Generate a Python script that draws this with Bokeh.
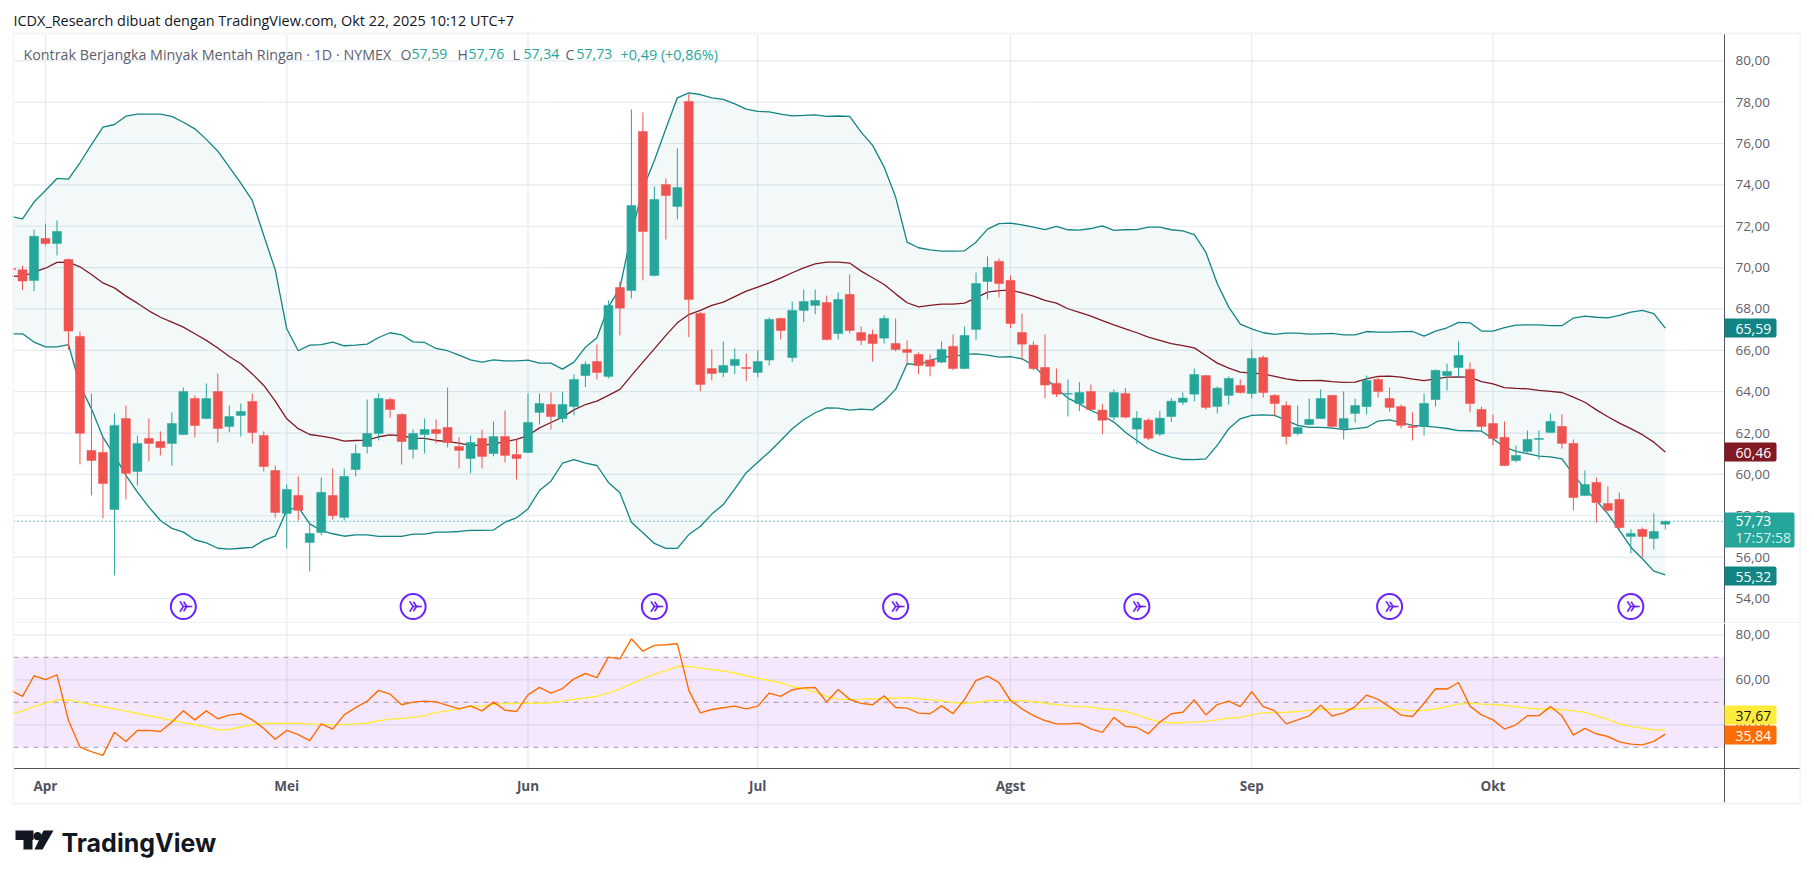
from bokeh.plotting import figure
from bokeh.layouts import column
from bokeh.models import (Range1d, LinearAxis, FixedTicker, BoxAnnotation, Label,
                          PolyAnnotation, ColumnDataSource)
from bokeh.embed import file_html
from bokeh.resources import INLINE

first_bar = -3
opens = [69.96,69.89,69.38,71.41,71.17,70.39,66.67,61.16,61.06,58.30,62.70,60.14,61.74,61.59,61.50,61.93,63.67,62.70,64.01,62.32,62.85,63.53,61.88,60.19,
58.11,58.98,56.71,57.19,58.98,57.92,60.24,61.35,61.98,63.62,62.90,61.21,61.93,62.17,62.27,61.35,60.77,61.74,61.01,61.83,60.96,
61.06,63.00,63.38,62.70,63.28,64.78,65.46,64.74,69.04,68.89,76.58,69.62,74.02,72.96,78.03,67.78,65.12,64.93,65.27,65.17,64.93,65.53,67.54,65.65,67.93,68.17,68.31,66.81,68.70,66.86,66.77,66.59,66.33,66.04,65.80,65.53,65.43,66.19,65.12,67.01,69.33,70.30,69.38,66.86,66.25,65.17,64.40,63.88,63.43,64.01,63.11,62.77,63.91,62.19,62.62,61.95,62.80,63.49,63.88,64.78,63.29,
63.82,64.30,63.91,65.65,63.82,63.33,61.98,62.41,62.70,63.82,62.22,62.95,63.28,64.59,63.67,63.28,62.32,62.32,63.62,64.78,65.17,65.08,63.14,62.46,61.79,60.67,61.11,61.69,62.03,62.32,61.50,58.98,59.61,58.59,58.79,57.00,57.34,56.90,57.59]
highs = [70.10,70.09,71.84,72.13,72.28,70.44,66.91,63.91,61.80,62.95,63.33,61.88,62.70,62.08,63.00,64.20,63.82,64.40,64.88,63.33,63.43,63.91,62.08,60.43,
59.51,59.90,57.58,59.85,60.29,60.29,61.45,63.62,63.91,63.72,62.95,62.17,62.70,62.66,64.20,61.79,61.88,62.17,62.56,63.09,61.69,
63.91,63.91,63.96,64.01,64.83,65.46,66.28,68.41,69.33,77.65,77.50,73.92,74.31,75.76,78.40,67.85,66.04,66.43,66.09,65.85,65.99,67.59,67.59,68.36,68.94,68.94,68.65,68.80,69.67,67.15,67.01,67.69,67.54,66.48,65.90,65.80,66.43,66.77,67.15,69.76,70.54,70.44,69.62,67.78,66.43,66.77,65.12,64.59,64.46,64.35,63.40,64.11,64.17,63.06,62.72,63.06,63.69,63.96,65.12,64.80,64.25,
64.74,64.59,66.04,65.75,63.88,63.53,63.33,63.67,64.11,63.84,64.01,63.67,64.78,64.74,64.20,63.38,63.00,63.91,65.08,65.36,66.43,65.41,63.28,62.90,62.56,61.40,62.12,62.12,62.95,62.90,61.69,60.19,59.85,59.42,59.13,57.34,57.43,58.11,57.76]
lows = [69.50,68.91,68.86,71.07,70.59,66.03,60.48,58.98,57.87,55.11,58.79,59.47,60.63,60.92,60.43,61.90,61.79,62.68,61.54,62.03,61.83,61.50,60.14,57.92,
56.42,57.77,55.31,57.05,57.82,57.77,59.90,61.01,61.64,62.75,60.48,60.77,61.01,61.50,61.30,60.29,60.05,60.29,60.87,60.58,59.75,
61.04,62.41,62.17,62.51,62.85,64.22,64.59,64.64,66.72,68.51,69.38,69.57,71.36,72.33,66.64,64.01,64.54,64.70,64.85,64.51,64.70,65.27,66.52,65.43,67.36,67.75,66.48,66.52,66.81,66.25,65.46,66.33,65.95,65.27,64.85,64.74,65.38,65.04,65.08,66.52,68.46,68.56,67.07,65.53,65.04,63.69,63.74,62.80,63.06,63.11,61.95,62.62,62.72,61.46,61.66,61.85,62.53,63.35,63.54,63.14,62.95,
63.38,63.91,63.67,63.72,62.80,61.45,61.88,62.37,62.68,62.27,61.69,62.51,62.90,63.72,63.04,62.22,61.64,61.88,63.28,64.06,64.69,63.00,62.08,61.40,60.41,60.58,61.06,60.72,62.01,61.25,58.26,58.96,57.68,58.21,57.29,56.18,55.98,56.37,57.34]
closes = [69.90,69.35,71.51,71.17,71.75,66.93,61.99,60.67,59.56,62.37,60.05,61.50,61.50,61.30,62.46,64.01,62.37,63.67,62.22,62.80,63.04,62.03,60.38,58.16,
59.27,58.26,57.14,59.13,58.01,59.90,61.01,61.98,63.67,63.14,61.59,61.98,62.17,61.98,61.54,61.16,61.54,60.87,61.83,60.92,60.77,
62.51,63.43,62.80,63.38,64.59,65.32,64.93,68.17,68.04,73.00,71.75,73.29,73.49,73.87,68.46,64.35,64.88,65.27,65.56,65.12,65.46,67.49,66.96,67.93,68.36,68.41,66.52,68.46,66.96,66.48,66.33,67.54,66.04,65.90,65.27,65.23,66.04,65.12,66.72,69.23,70.01,69.23,67.30,66.30,65.12,64.32,63.88,63.91,63.96,63.14,62.62,63.96,62.77,62.72,61.75,62.72,63.54,63.69,64.83,63.24,64.17,
64.64,63.96,65.61,63.96,63.43,61.83,62.27,62.66,63.67,62.32,62.70,63.33,64.54,64.01,63.24,62.37,62.27,63.43,65.03,64.98,65.75,63.43,62.32,61.74,60.43,60.92,61.69,61.74,62.56,61.50,58.88,59.51,58.64,58.26,57.43,57.14,57.00,57.24,57.73]

bb_upper = [72.47,72.36,73.17,73.73,74.31,74.28,75.07,75.95,76.79,76.92,77.32,77.42,77.42,77.42,77.31,77.03,76.71,76.20,75.63,74.86,74.08,73.25,71.55,69.89,67.04,65.98,66.25,66.28,66.40,66.22,66.25,66.30,66.62,66.85,66.75,66.41,66.38,66.09,65.98,65.77,65.54,65.43,65.54,65.49,65.49,65.53,65.38,65.38,65.09,65.43,66.15,66.61,68.09,69.02,
71.63,73.81,75.18,76.71,78.21,78.45,78.37,78.21,78.13,77.92,77.66,77.55,77.53,77.42,77.34,77.36,77.39,77.31,77.33,77.31,76.55,75.91,74.86,73.41,71.23,70.96,70.86,70.80,70.80,70.81,71.23,71.86,72.13,72.15,72.07,71.96,71.84,71.99,71.83,71.81,71.89,72.02,71.80,71.83,71.84,71.96,71.96,71.83,71.78,71.59,
70.75,69.22,68.09,67.27,67.04,66.85,66.77,66.83,66.83,66.78,66.80,66.82,66.75,66.75,66.91,66.88,66.88,66.90,66.91,66.69,66.93,67.09,67.35,67.33,66.93,66.93,67.10,67.22,67.23,67.23,67.19,67.19,67.56,67.65,67.60,67.57,67.69,67.85,67.93,67.77,67.07]
bb_middle = [69.59,69.57,69.78,69.97,70.25,70.26,70.04,69.67,69.26,69.02,68.62,68.28,67.91,67.60,67.36,67.12,66.80,66.48,66.11,65.70,65.35,64.86,64.30,63.54,62.69,62.21,61.93,61.85,61.75,61.61,61.64,61.66,61.82,61.91,61.87,61.75,61.74,61.64,61.59,61.51,61.40,61.40,61.48,61.58,61.69,61.88,62.25,62.51,62.77,63.12,63.38,63.54,63.82,64.11,
64.78,65.43,66.07,66.72,67.33,67.73,67.93,68.17,68.33,68.60,68.86,69.06,69.26,69.49,69.75,69.99,70.18,70.26,70.26,70.22,69.83,69.51,69.18,68.73,68.30,68.10,68.17,68.23,68.23,68.28,68.54,68.81,68.89,68.91,68.78,68.62,68.41,68.28,68.01,67.83,67.65,67.44,67.23,67.04,66.85,66.64,66.48,66.32,66.23,66.12,
65.75,65.38,65.14,64.95,64.90,64.86,64.74,64.62,64.54,64.53,64.54,64.49,64.45,64.46,64.62,64.74,64.75,64.70,64.61,64.53,64.62,64.70,64.72,64.69,64.49,64.38,64.20,64.16,64.14,64.06,64.01,63.96,63.74,63.49,63.12,62.79,62.48,62.21,61.92,61.56,61.08]
bb_lower = [66.80,66.80,66.40,66.17,66.17,66.28,64.30,63.17,61.80,60.92,59.95,59.14,58.42,57.77,57.39,57.21,56.84,56.69,56.43,56.39,56.43,56.47,56.81,57.01,58.26,58.42,57.61,57.29,57.13,57.01,57.08,57.08,57.00,57.00,57.00,57.11,57.11,57.21,57.21,57.24,57.29,57.29,57.31,57.69,57.90,58.33,59.22,59.67,60.54,60.71,60.54,60.43,59.61,59.11,
57.69,57.18,56.66,56.42,56.42,57.09,57.48,58.08,58.54,59.30,60.08,60.59,61.08,61.64,62.21,62.64,62.98,63.22,63.20,63.11,63.16,63.12,63.54,64.11,65.35,65.30,65.51,65.67,65.70,65.80,65.83,65.77,65.67,65.69,65.59,65.27,64.70,64.14,63.69,63.41,63.09,62.85,62.53,62.04,61.64,61.24,61.00,60.84,60.72,60.71,
60.75,61.40,62.21,62.69,62.85,62.88,62.85,62.61,62.37,62.27,62.27,62.24,62.16,62.21,62.27,62.58,62.64,62.50,62.37,62.33,62.29,62.22,62.12,62.11,62.09,61.72,61.32,61.11,61.00,60.88,60.85,60.75,60.00,59.30,58.74,58.09,57.29,56.48,55.92,55.32,55.14]

rsi = [55.3,52.6,61.8,60.1,62.2,41.9,30.1,28.1,26.4,36.7,32.6,37.5,37.5,37.0,41.2,46.2,42.2,46.2,42.7,44.3,45.0,42.2,38.4,33.6,37.5,35.6,33.0,40.4,38.1,44.4,47.6,50.5,55.3,53.6,48.9,50.1,50.5,50.2,48.6,47.1,48.4,46.2,50.1,46.5,45.9,53.3,56.6,54.1,56.1,60.4,62.8,61.0,70.1,69.3,
78.2,72.7,75.3,75.6,76.0,55.3,45.3,46.8,47.6,48.3,47.1,48.3,54.1,52.6,55.6,56.4,56.6,50.1,55.7,51.3,49.5,48.9,52.9,47.7,47.4,45.2,44.9,48.4,45.0,51.3,59.7,61.6,58.7,50.8,47.1,44.1,41.9,40.4,40.4,40.7,38.2,36.6,43.3,39.3,38.8,36.0,41.2,44.9,45.6,51.1,
44.4,49.0,50.5,48.1,54.7,48.1,46.2,40.4,42.2,44.0,48.7,43.9,45.3,48.1,53.2,51.3,48.0,44.3,43.7,49.6,56.0,55.9,58.8,48.3,44.4,42.2,38.1,40.0,44.0,44.1,48.1,44.0,35.4,38.4,36.0,34.8,32.4,31.4,31.1,32.6,35.84]
rsi_ma = [44.9,46.1,48.1,49.6,51.0,51.1,50.1,49.0,48.0,47.1,46.1,45.0,44.0,43.0,41.9,41.0,40.0,39.0,37.8,37.9,39.0,40.0,40.6,40.6,40.7,40.7,40.3,40.3,40.1,40.1,40.4,40.7,41.8,42.5,42.8,43.3,44.1,45.5,46.2,47.1,48.1,48.4,49.0,49.5,49.5,49.6,49.6,49.8,50.5,51.3,52.0,52.6,54.2,56.0,
58.2,60.4,62.4,64.1,65.9,65.9,65.2,64.6,63.9,63.0,61.8,60.7,59.7,58.7,57.0,56.0,54.5,52.7,51.4,51.3,51.4,51.6,51.7,51.9,51.9,51.7,51.1,50.7,49.9,49.6,49.9,50.7,50.8,50.8,50.7,50.4,49.6,49.0,48.4,48.1,47.9,47.0,46.8,45.9,44.4,42.7,41.3,40.9,40.9,41.2,
41.5,42.2,43.0,43.3,44.4,45.3,45.5,45.6,45.9,46.4,46.8,47.0,47.0,46.8,47.4,47.4,47.4,46.8,46.2,46.4,47.0,48.1,49.2,49.6,49.2,49.0,48.6,48.0,47.4,47.0,47.0,46.7,46.2,45.5,44.1,42.4,40.4,39.3,38.5,37.8,37.67]

month_bars = [0, 21, 42, 62, 84, 105, 126]
month_labels = ["Apr", "Mei", "Jun", "Jul", "Agst", "Sep", "Okt"]
price_ticks = [54, 56, 58, 60, 62, 64, 66, 68, 70, 72, 74, 76, 78, 80]
price_labels = ["54,00", "56,00", "58,00", "60,00", "62,00", "64,00", "66,00", "68,00", "70,00", "72,00", "74,00", "76,00", "78,00", "80,00"]
rsi_ticks = [40, 60, 80]
rsi_labels = ["40,00", "60,00", "80,00"]
rsi_dashes = [30, 50, 70]
icon_bars = [12, 32, 53, 74, 95, 117, 138]
icon_level = 53.61
last_close = 57.73

UP, DOWN = "#26a69a", "#ef5350"
BAND, MID = "#138484", "#801922"
GRID = "#e3ebf1"
AXIS = "#50535e"
TXT = "#5d606b"
CHROME = "#f2f3f3"
FONT = "Open Sans"
W, H1, H2 = 1801, 623, 235
PX = 11.488                # width of one bar on the page
X_LEFT = (13 - 45) / PX    # left end of the plot area, in bars
X_AXIS = (1724 - 45) / PX  # the price axis, in bars
X_END = (1801 - 45) / PX
P_SCALE = 20.68            # page pixels per price unit
P_TOP, P_BOTTOM = 80 + 60.3 / P_SCALE, 80 - (623 - 60.3) / P_SCALE
P_PANE_TOP = 80 + (60.3 - 33) / P_SCALE
R_SCALE = 2.25             # page pixels per RSI unit
R_TOP, R_AXIS, R_BOTTOM = 80 + (634.3 - 623) / R_SCALE, 80 - (768 - 634.3) / R_SCALE, 80 - (858 - 634.3) / R_SCALE
R_FRAME = 80 - (802 - 634.3) / R_SCALE

bars = list(range(first_bar, first_bar + len(closes)))
for arr in (opens, highs, lows, bb_upper, bb_middle, bb_lower, rsi, rsi_ma):
    assert len(arr) == len(bars), len(arr)

x_range = Range1d((12 - 45) / PX, X_END)

def base(height, y0, y1):
    p = figure(width=W, height=height, x_range=x_range, y_range=Range1d(y0, y1),
               x_axis_type=None, y_axis_type=None, toolbar_location=None, output_backend="svg",
               min_border_left=12, min_border_right=0, min_border_top=0, min_border_bottom=0)
    p.outline_line_color = None
    p.background_fill_color = "white"
    p.border_fill_color = "white"
    return p

def right_axis(p, ticks, labels, bounds):
    ax = LinearAxis(ticker=FixedTicker(ticks=ticks), major_label_overrides=dict(zip(ticks, labels)),
                    fixed_location=X_AXIS, bounds=bounds)
    ax.axis_line_color = AXIS
    ax.major_tick_line_color = None
    ax.minor_tick_line_color = None
    ax.major_tick_out = 0
    ax.major_tick_in = 0
    ax.major_label_standoff = 11
    ax.major_label_text_font = FONT
    ax.major_label_text_font_size = "13.5px"
    ax.major_label_text_color = TXT
    p.add_layout(ax, "right")

def grids(p, yticks, y0, y1):
    p.segment(x0=[X_LEFT] * len(yticks), y0=yticks, x1=[X_AXIS] * len(yticks), y1=yticks,
              line_color=GRID, line_width=1.2, level="underlay")
    p.segment(x0=month_bars, y0=[y0] * len(month_bars), x1=month_bars, y1=[y1] * len(month_bars),
              line_color=GRID, line_width=1.2, level="underlay")

def box(p, off, l, t, r, b, color, **kw):
    p.add_layout(BoxAnnotation(left=l, right=r, top=t - off, bottom=b - off,
                               left_units="canvas", right_units="canvas", top_units="canvas", bottom_units="canvas",
                               fill_color=color, fill_alpha=1, line_color=None, level="overlay", **kw))

def txt(p, off, x, y, s, color=TXT, size="14px", align="left", style="normal", font=FONT):
    p.add_layout(Label(x=x, y=y - off, x_units="canvas", y_units="canvas", text=s, text_color=color,
                       text_font=font, text_font_size=size, text_align=align, text_baseline="middle",
                       text_font_style=style, level="overlay"))

def tag(p, off, t, b, s, color, tcolor="white", r=1776):
    box(p, off, 1724, t, r, b, color, border_radius=(0, 2, 2, 0))
    txt(p, off, 1735, (t + b) / 2 + 0.5, s, tcolor, size="14px")

# ---------- price pane
p1 = base(H1, P_BOTTOM, P_TOP)
grids(p1, price_ticks, P_BOTTOM, P_PANE_TOP)
right_axis(p1, price_ticks, price_labels, (P_BOTTOM, P_PANE_TOP))

src = ColumnDataSource(dict(
    x=bars, o=opens, h=highs, l=lows, c=closes,
    top=[max(a, b) for a, b in zip(opens, closes)], bot=[min(a, b) for a, b in zip(opens, closes)],
    col=[UP if c >= o else DOWN for o, c in zip(opens, closes)],
    up=bb_upper, mid=bb_middle, low=bb_lower))
p1.varea("x", "low", "up", source=src, fill_color=BAND, fill_alpha=0.05)
p1.line("x", "up", source=src, line_color=BAND, line_width=1.3)
p1.line("x", "low", source=src, line_color=BAND, line_width=1.3)
p1.line("x", "mid", source=src, line_color=MID, line_width=1.3)
p1.segment(x0=[X_LEFT], y0=[last_close], x1=[X_AXIS], y1=[last_close], line_color=UP, line_dash="1 3", line_width=1.2)
p1.segment("x", "l", "x", "h", source=src, line_color="col", line_width=1)
p1.vbar("x", 0.78, "bot", "top", source=src, fill_color="col", line_color="col", line_width=0.5)

icon_src = ColumnDataSource(dict(x=icon_bars, y=[icon_level] * len(icon_bars)))
p1.scatter("x", "y", source=icon_src, marker="circle", size=25, fill_color=None, line_color="#6a20ff", line_width=2)
p1.scatter("x", "y", source=icon_src, marker="y", size=12, angle=1.5708, fill_color=None, line_color="#6a20ff", line_width=1.6)
icon_src2 = ColumnDataSource(dict(x=[b + 0.3 for b in icon_bars], y=[icon_level] * len(icon_bars)))
p1.scatter("x", "y", source=icon_src2, marker="y", size=11, angle=1.5708, fill_color=None, line_color="#6a20ff", line_width=1.6)

# page chrome
box(p1, 0, 12, 32, 1800, 34, CHROME)
box(p1, 0, 12, 32, 13.5, 623, CHROME)
box(p1, 0, 1799, 32, 1801, 623, CHROME)
box(p1, 0, 13, 622, 1800, 623, "#e3e6ea")

txt(p1, 0, 13, 20, "ICDX_Research dibuat dengan TradingView.com, Okt 22, 2025 10:12 UTC+7", "#131722", "14.43px")
txt(p1, 0, 23, 53.5, "Kontrak Berjangka Minyak Mentah Ringan · 1D · NYMEX", "#5d606b", "14.3px")
for x, k, v in [(400, "O", "57,59"), (457, "H", "57,76"), (512, "L", "57,34"), (565, "C", "57,73")]:
    txt(p1, 0, x, 53.5, k, "#5d606b", "14px")
    txt(p1, 0, x + 11, 53.5, v, UP, "14px")
txt(p1, 0, 620, 53.5, "+0,49 (+0,86%)", UP, "14.4px")

tag(p1, 0, 318, 337, "65,59", "#138484")
tag(p1, 0, 442, 461, "60,46", "#801922")
tag(p1, 0, 566, 585, "55,32", "#138484")
box(p1, 0, 1724, 512, 1794, 547, UP, border_radius=(0, 2, 2, 0))
txt(p1, 0, 1735, 520.5, "57,73", "white", "14px")
txt(p1, 0, 1735, 536.5, "17:57:58", "#d5efec", "14px")

# ---------- RSI pane
p2 = base(H2, R_BOTTOM, R_TOP)
p2.add_layout(BoxAnnotation(bottom=30, top=70, left=X_LEFT, right=X_AXIS,
                            fill_color="#9a1ff0", fill_alpha=0.1, line_color=None, level="underlay"))
grids(p2, rsi_ticks, R_AXIS, R_TOP)
p2.segment(x0=[X_LEFT] * len(rsi_dashes), y0=rsi_dashes, x1=[X_AXIS] * len(rsi_dashes), y1=rsi_dashes,
           line_color="#a3a3ab", line_dash="5 5", line_width=1, level="underlay")
right_axis(p2, rsi_ticks, rsi_labels, (R_FRAME, R_TOP))
ax_x = LinearAxis(ticker=FixedTicker(ticks=month_bars), major_label_overrides=dict(zip(month_bars, month_labels)),
                  fixed_location=R_AXIS, bounds=(X_LEFT, X_END - 0.1))
ax_x.axis_line_color = AXIS
ax_x.major_tick_line_color = None
ax_x.minor_tick_line_color = None
ax_x.major_tick_out = 0
ax_x.major_tick_in = 0
ax_x.major_label_standoff = 8
ax_x.major_label_text_font = FONT
ax_x.major_label_text_font_size = "13.5px"
ax_x.major_label_text_font_style = "bold"
ax_x.major_label_text_color = AXIS
p2.add_layout(ax_x, "below")

rsrc = ColumnDataSource(dict(x=bars, r=rsi, m=rsi_ma))
p2.line("x", "m", source=rsrc, line_color="#ffeb3b", line_width=1.4)
p2.line("x", "r", source=rsrc, line_color="#ff6d00", line_width=1.4)

off = 623
box(p2, off, 12, 623, 13.5, 804, CHROME)
box(p2, off, 1799, 623, 1801, 804, CHROME)
box(p2, off, 12, 802, 1801, 804, CHROME)
tag(p2, off, 705, 724, "37,67", "#ffeb3b", "#131722")
tag(p2, off, 725, 744, "35,84", "#ff6d00")

# TradingView logo
box(p2, off, 15, 830, 33, 839.5, "#131722")
box(p2, off, 23, 839, 32, 849, "#131722")
p2.add_layout(PolyAnnotation(xs=[43, 53, 42, 34], ys=[207, 207, 226, 226], xs_units="canvas", ys_units="canvas",
                             fill_color="#131722", fill_alpha=1, line_color=None, level="overlay"))
txt(p2, off, 37, 834.5, "●", "#131722", "11px", "center", font="DejaVu Sans")
txt(p2, off, 61, 842, "TradingView", "#131722", "25px", style="bold", font="Inter")

page = column(p1, p2, spacing=0)
open("out.html", "w").write(file_html(page, INLINE))
